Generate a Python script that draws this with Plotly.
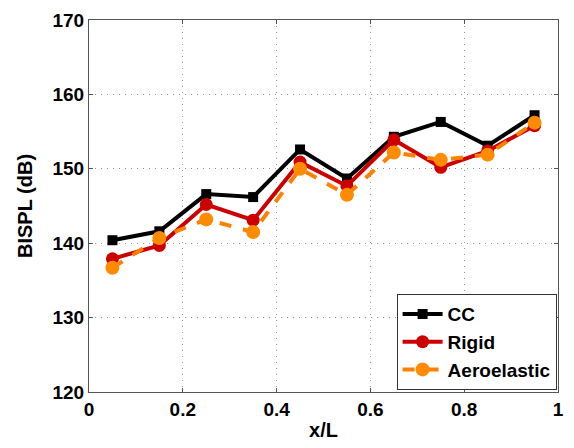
import plotly.graph_objects as go

x_pos = [0.05, 0.15, 0.25, 0.35, 0.45, 0.55, 0.65, 0.75, 0.85, 0.95]
cc = [140.4, 141.6, 146.6, 146.2, 152.6, 148.7, 154.3, 156.3, 153.1, 157.2]
rigid = [137.9, 139.7, 145.2, 143.1, 150.9, 147.7, 153.9, 150.2, 152.4, 155.8]
aero = [136.7, 140.7, 143.2, 141.5, 150.0, 146.5, 152.2, 151.2, 151.9, 156.2]
x_ticks = [0, 0.2, 0.4, 0.6, 0.8, 1]
x_tick_text = ["0", "0.2", "0.4", "0.6", "0.8", "1"]
y_ticks = [120, 130, 140, 150, 160, 170]

font_family = "Liberation Sans, Arial, sans-serif"

fig = go.Figure()
fig.add_trace(go.Scatter(x=x_pos, y=cc, name="CC", mode="lines+markers",
                         line=dict(color="black", width=4),
                         marker=dict(symbol="square", size=10, color="black")))
fig.add_trace(go.Scatter(x=x_pos, y=rigid, name="Rigid", mode="lines+markers",
                         line=dict(color="#cc0000", width=4),
                         marker=dict(symbol="circle", size=13, color="#cc0000")))
fig.add_trace(go.Scatter(x=x_pos, y=aero, name="Aeroelastic", mode="lines+markers",
                         line=dict(color="#ff8000", width=4, dash="dash"),
                         marker=dict(symbol="circle", size=14, color="#ff8c00")))

axis_common = dict(
    showline=True, linecolor="#555555", linewidth=1, mirror="ticks",
    ticks="inside", ticklen=4, tickcolor="#555555",
    showgrid=True, gridcolor="#999999", griddash="1px,5px", gridwidth=1.2,
    zeroline=False,
    tickfont=dict(family=font_family, size=19, color="black", weight="bold"),
)

fig.update_xaxes(range=[0, 1], tickvals=x_ticks, ticktext=x_tick_text,
                 title=dict(text="x/L", font=dict(family=font_family, size=20, color="black", weight="bold"), standoff=4),
                 **axis_common)
fig.update_yaxes(range=[120, 170], tickvals=y_ticks,
                 title=dict(text="BISPL (dB)", font=dict(family=font_family, size=20, color="black", weight="bold"), standoff=14),
                 **axis_common)

fig.update_layout(
    width=574, height=448,
    margin=dict(l=89, r=10, t=17, b=56),
    plot_bgcolor="white", paper_bgcolor="white",
    legend=dict(x=0.997, y=0.005, xanchor="right", yanchor="bottom",
                bordercolor="#333333", borderwidth=1, bgcolor="white",
                font=dict(family=font_family, size=19, color="black", weight="bold"),
                itemwidth=40, tracegroupgap=0),
)

fig.write_html("out.html")
